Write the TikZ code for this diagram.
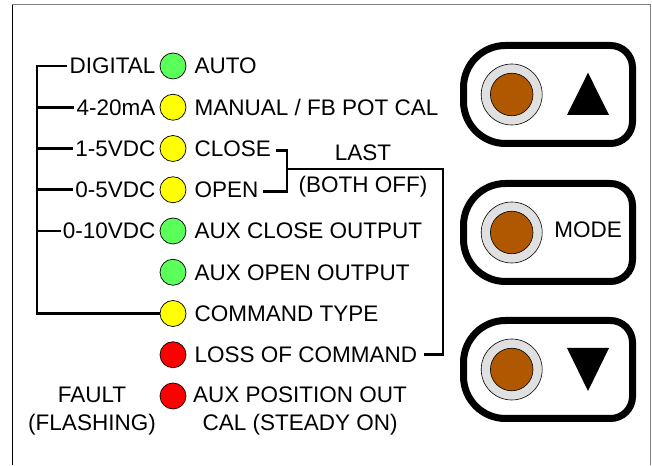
\documentclass[tikz,border=0pt]{standalone}
\usepackage{fontspec}
\setmainfont{Liberation Sans}
\usetikzlibrary{positioning,calc}
\definecolor{ledgreen}{RGB}{90,255,90}
\definecolor{ledyellow}{RGB}{255,255,0}
\definecolor{ledred}{RGB}{255,0,0}
\definecolor{ringgray}{RGB}{224,224,224}
\definecolor{knobbrown}{RGB}{176,88,0}
\def\rowgap{41.25}
\tikzset{
  lamp/.style    = {circle, draw=black, line width=0.7pt, minimum size=26pt, inner sep=0pt},
  txt/.style     = {font=\fontsize{22.5}{28}\selectfont, inner sep=0pt, text height=16pt, text depth=0pt},
  twoline/.style = {font=\fontsize{22.5}{28}\selectfont, inner sep=0pt, align=center},
  wire/.style    = {line width=2.8pt},
  keyline/.style = {line width=7pt},
  ring/.style    = {circle, draw=black, line width=0.6pt, fill=ringgray, minimum size=61pt, inner sep=0pt},
  knob/.style    = {circle, draw=black, line width=0.6pt, fill=knobbrown, minimum size=42.6pt, inner sep=0pt},
  frame/.style   = {line width=1pt}
}

\begin{document}
\begin{tikzpicture}[x=1pt,y=1pt]
\useasboundingbox (0,0) rectangle (652,465);

% --- panel outline ---
\draw[frame, black] (12,0) -- (12,460);
\draw[frame, gray] (12,460) -- (650,460) -- (650,0);

% --- lamp column, labels on the right ---
\foreach \col/\name [count=\i] in {ledgreen/AUTO, ledyellow/{MANUAL / FB POT CAL}, ledyellow/CLOSE, ledyellow/OPEN,
    ledgreen/{AUX CLOSE OUTPUT}, ledgreen/{AUX OPEN OUTPUT}, ledyellow/{COMMAND TYPE}, ledred/{LOSS OF COMMAND}}{
  \pgfmathsetmacro{\ry}{399-\rowgap*(\i-1)}
  \node[lamp, fill=\col] (led\i) at (173,\ry) {};
  \node[txt, right=8pt of led\i] (out\i) {\name};
}

% --- last lamp (two line labels) ---
\node[lamp, fill=ledred] (led9) at (173,69) {};
\node[twoline, anchor=north west] (out9) at (193,78) {AUX POSITION OUT\\CAL (STEADY ON)};
\node[twoline, anchor=north] (fault) at (92,78) {FAULT\\(FLASHING)};

% --- command type labels on the left ---
\foreach \name [count=\i] in {DIGITAL, 4-20mA, 1-5VDC, 0-5VDC, 0-10VDC}{
  \node[txt, left=4pt of led\i] (in\i) {\name};
}

% --- bracket: command types -> COMMAND TYPE lamp ---
\coordinate (spineTop) at (37,399);
\coordinate (spineBot) at (spineTop |- led7.west);
\draw[wire] ([xshift=-2pt]in1.west) -- (spineTop) -- (spineBot) -- (led7.west);
\foreach \i in {2,...,5}{
  \draw[wire] ([xshift=-2pt]in\i.west) -- (spineTop |- in\i.west);
}

% --- bracket: CLOSE/OPEN -> LOSS OF COMMAND ---
\coordinate (pairJoin) at (287,296);
\coordinate (lastDrop) at (443,296);
\draw[wire] ([xshift=5pt,yshift=-2pt]out3.east) -| ([yshift=-2pt]pairJoin |- out4.east) -- ([xshift=4pt,yshift=-2pt]out4.east);
\draw[wire] (pairJoin) -- (lastDrop) |- ([xshift=7pt]out8.east);
\node[txt] (last) at (363,312) {LAST};
\node[txt] (bothoff) at (363,280) {(BOTH OFF)};

% --- push buttons ---
\foreach \cy/\nm in {370.5/up, 232.5/mode, 95.5/down}{
  \draw[keyline] (505.5,\cy+49) -- (610.5,\cy+49)
    arc[start angle=90, end angle=0, radius=22pt] -- (632.5,\cy-27)
    arc[start angle=0, end angle=-90, radius=22pt] -- (505.5,\cy-49)
    arc[start angle=270, end angle=180, radius=42pt] -- (463.5,\cy+7)
    arc[start angle=180, end angle=90, radius=42pt] -- cycle;
  \node[ring] (ring\nm) at (511.7,\cy) {};
  \node[knob] (knob\nm) at (ring\nm) {};
}
\fill (588,392.3) -- (609,350) -- (567,350) -- cycle;
\node[txt] (modetxt) at (588,235) {MODE};
\fill (588,74) -- (609,117) -- (567,117) -- cycle;

\end{tikzpicture}
\end{document}
